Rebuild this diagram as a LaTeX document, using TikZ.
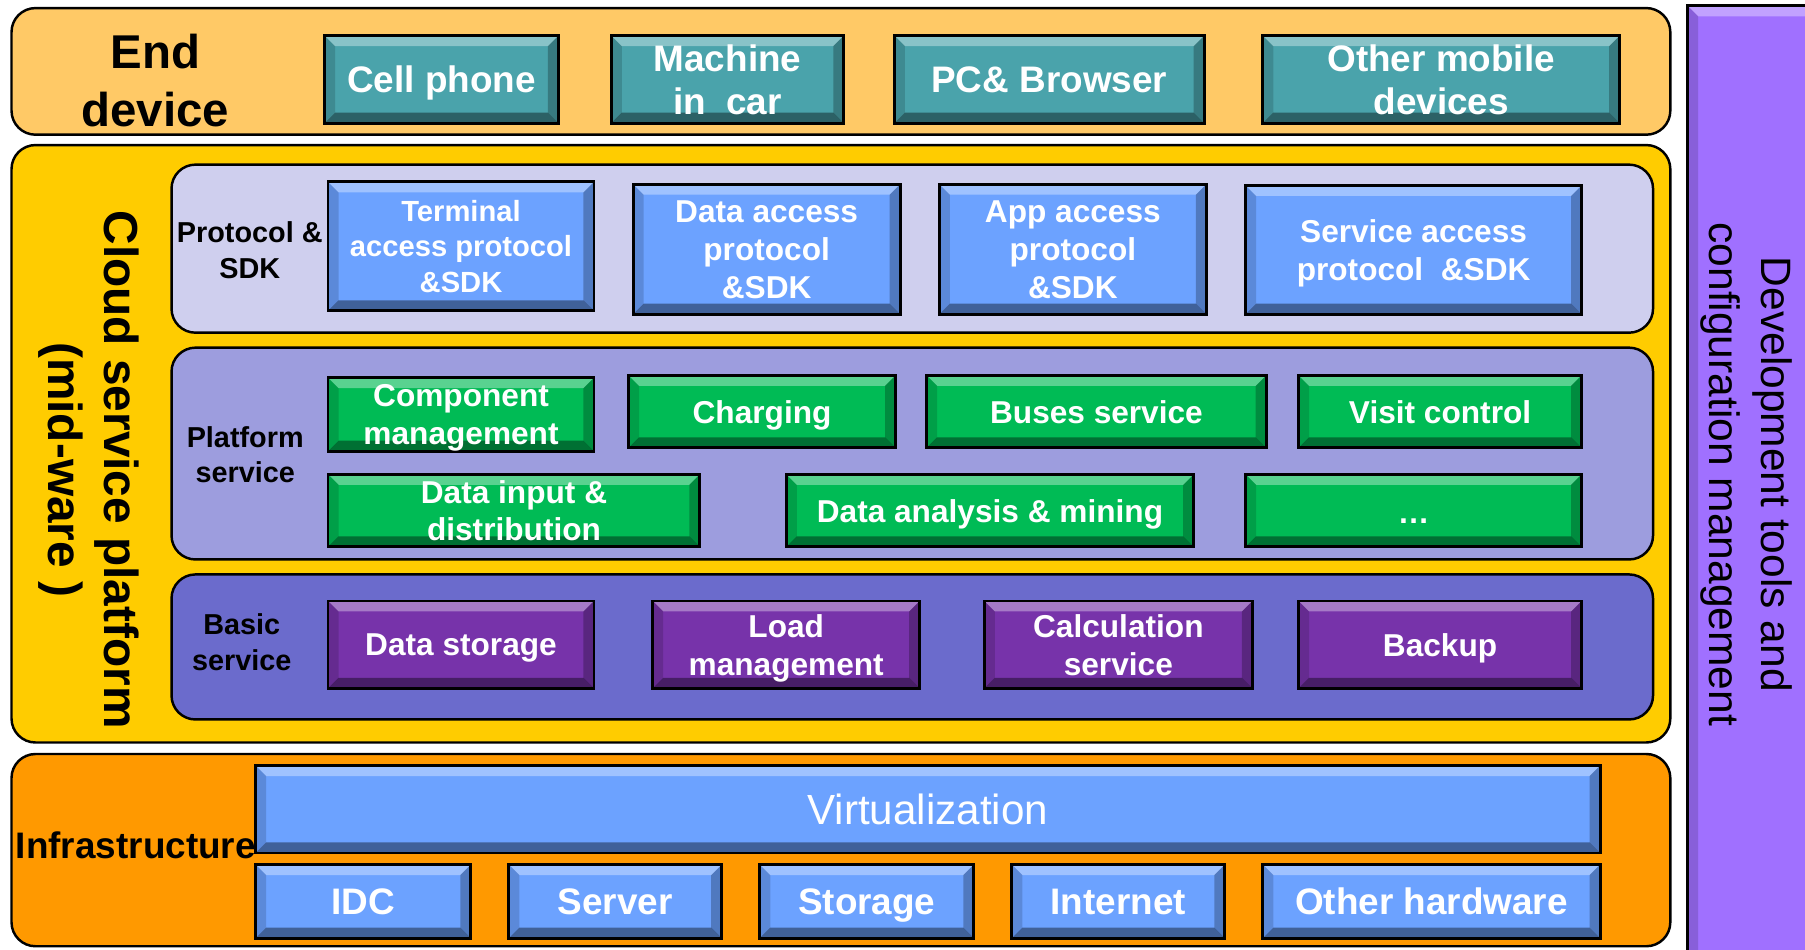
\documentclass[tikz,border=0pt]{standalone}
\usepackage{fontspec}
\setmainfont{Liberation Sans}

\definecolor{enddev}{HTML}{FFC966}
\definecolor{cloudbg}{HTML}{FFCC00}
\definecolor{protbg}{HTML}{CFCFEE}
\definecolor{platbg}{HTML}{9D9DDE}
\definecolor{basebg}{HTML}{6B6BCC}
\definecolor{infbg}{HTML}{FF9900}
\definecolor{devbg}{HTML}{A070FF}
\definecolor{tealc}{HTML}{4AA3AB}
\definecolor{bluec}{HTML}{6CA2FF}
\definecolor{greenc}{HTML}{00BB55}
\definecolor{purplec}{HTML}{7733AA}

\newcommand{\pxu}{0.11512mm}

\begin{document}
\begin{tikzpicture}[x=\pxu, y=-\pxu,
    spot/.style args={#1,#2,#3,#4}{at={({(#1+#3)/2},{(#2+#4)/2})},
      minimum width={(#3-#1)*\pxu}, minimum height={(#4-#2)*\pxu}},
    bevel/.style={path picture={
      \fill[white,opacity=.35] (path picture bounding box.north west) -- (path picture bounding box.north east)
        -- ([shift={(-3pt,-3pt)}]path picture bounding box.north east) -- ([shift={(3pt,-3pt)}]path picture bounding box.north west) -- cycle;
      \fill[black,opacity=.4] (path picture bounding box.south west) -- (path picture bounding box.south east)
        -- ([shift={(-3pt,3pt)}]path picture bounding box.south east) -- ([shift={(3pt,3pt)}]path picture bounding box.south west) -- cycle;
      \fill[black,opacity=.15] (path picture bounding box.north west) -- ([shift={(3pt,-3pt)}]path picture bounding box.north west)
        -- ([shift={(3pt,3pt)}]path picture bounding box.south west) -- (path picture bounding box.south west) -- cycle;
      \fill[black,opacity=.25] (path picture bounding box.north east) -- ([shift={(-3pt,-3pt)}]path picture bounding box.north east)
        -- ([shift={(-3pt,3pt)}]path picture bounding box.south east) -- (path picture bounding box.south east) -- cycle;
    }},
    band/.style={rectangle, draw, line width=0.7pt, rounded corners=2.4mm, inner sep=0},
    blk/.style={rectangle, draw, line width=0.8pt, inner sep=0, align=center, text=white, bevel,
      text depth=0pt, font=\bfseries\fontsize{9}{10.8}\selectfont},
    endbox/.style={blk, fill=tealc, font=\bfseries\fontsize{10.5}{12.4}\selectfont},
    protbox/.style={blk, fill=bluec},
    platbox/.style={blk, fill=greenc},
    basebox/.style={blk, fill=purplec},
    infbox/.style={blk, fill=bluec, font=\bfseries\fontsize{10.5}{12.4}\selectfont},
    lbl/.style={align=center, inner sep=0, font=\bfseries\fontsize{8.2}{10.2}\selectfont},
  ]
\useasboundingbox (0,0) rectangle (1568,825);
\clip (0,0) rectangle (1568,825);

% Bands
\node[band, fill=enddev, spot={10,7,1451,117}] (endband) {};
\node[band, fill=cloudbg, spot={10,126,1451,645}] (cloudband) {};
\node[band, fill=protbg, spot={149,143,1436,289}] (protband) {};
\node[band, fill=platbg, spot={149,302,1436,486}] (platband) {};
\node[band, fill=basebg, spot={149,499,1436,625}] (baseband) {};
\node[band, fill=infbg, spot={10,655,1451,822}] (infband) {};
\node[blk, fill=devbg, spot={1466,5,1600,845}] (devcol) {};

% End device
\node[lbl, font=\bfseries\fontsize{13.5}{16.4}\selectfont] (endlbl) at (135,70) {End\\device};
\foreach \n/\xa/\xb/\t in {cell/282/485/{Cell phone}, car/531/733/{Machine\\in~~car},
    pc/777/1046/{PC\& Browser}, mob/1097/1407/{Other mobile\\devices}}
  \node[endbox, spot={\xa,31,\xb,107}] (\n) {\t};

% Cloud service platform
\node[lbl, rotate=-90, font=\bfseries\fontsize{13.6}{15.8}\selectfont] (cloudlbl) at (77,408)
  {Cloud service platform\\(mid-ware )};

% Protocol & SDK
\node[lbl] (protlbl) at (217,217) {Protocol \&\\SDK};
\node[protbox, spot={285,158,516,270}, font=\bfseries\fontsize{8.3}{10}\selectfont] (term)
  {Terminal\\access protocol\\\&SDK};
\node[protbox, spot={550,160,782,273}] (dacc) {Data access\\protocol\\\&SDK};
\node[protbox, spot={816,160,1048,273}] (aacc) {App access\\protocol\\\&SDK};
\node[protbox, spot={1082,161,1374,273}] (sacc) {Service access\\protocol~~\&SDK};

% Platform service
\node[lbl] (platlbl) at (213,395) {Platform\\service};
\node[platbox, spot={285,328,516,392}] (comp) {Component\\management};
\foreach \n/\xa/\xb/\t in {charg/546/778/Charging, buses/805/1100/{Buses service},
    visit/1128/1374/{Visit control}}
  \node[platbox, spot={\xa,326,\xb,389}] (\n) {\t};
\foreach \n/\xa/\xb/\t in {dinput/285/608/{Data input \&\\distribution},
    danal/683/1037/{Data analysis \& mining}}
  \node[platbox, spot={\xa,412,\xb,475}] (\n) {\t};
\node[platbox, spot={1082,412,1374,475}, text height=0.72em] (more) {\dots};

% Basic service
\node[lbl] (baselbl) at (210,558) {Basic\\service};
\foreach \n/\xa/\xb/\t in {dstor/285/516/{Data storage}, load/567/799/{Load\\management},
    calc/855/1088/{Calculation\\service}, backup/1128/1374/Backup}
  \node[basebox, spot={\xa,522,\xb,598}] (\n) {\t};

% Infrastructure
\node[lbl, font=\bfseries\fontsize{10.5}{12.4}\selectfont] (inflbl) at (118,734) {Infrastructure};
\node[infbox, spot={222,665,1390,741}, font=\fontsize{12}{14}\selectfont] (virt) {Virtualization};
\foreach \n/\xa/\xb/\t in {idc/222/409/IDC, server/442/627/Server, storage/660/846/Storage,
    inet/879/1064/Internet, ohw/1097/1390/{Other hardware}}
  \node[infbox, spot={\xa,751,\xb,815}] (\n) {\t};

% Development tools
\node[lbl, rotate=-90, font=\fontsize{12.1}{14.7}\selectfont] (devlbl) at (1517,412)
  {Development tools and\\configuration management};
\end{tikzpicture}
\end{document}
